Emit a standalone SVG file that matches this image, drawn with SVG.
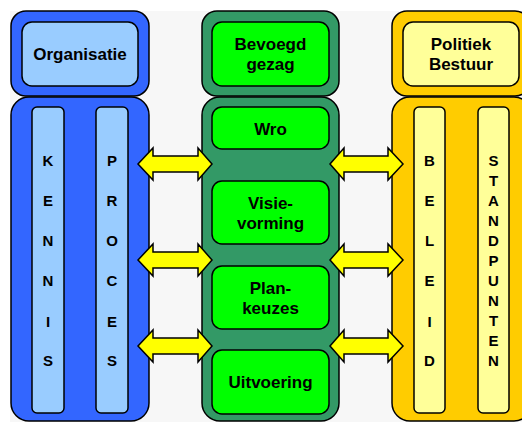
<svg xmlns="http://www.w3.org/2000/svg" width="522" height="422" viewBox="0 0 522 422">
<defs>
<style>
.t{font-family:"Liberation Sans",Arial,sans-serif;font-weight:bold;font-size:17px;fill:#000;text-anchor:middle}
.s{font-family:"Liberation Sans",Arial,sans-serif;font-weight:bold;font-size:15px;fill:#000;text-anchor:middle}
.o{stroke:#000;stroke-width:1.5}
.b1{fill:#3366ff}.b2{fill:#99ccff}
.g1{fill:#339966}.g2{fill:#00ff00}
.y1{fill:#ffcc00}.y2{fill:#ffff99}
.arr{fill:#ffff00;stroke:#000;stroke-width:1.5;stroke-linejoin:miter}
</style>
</defs>
<rect x="0" y="0" width="522" height="422" fill="#ffffff"/>
<rect x="10" y="11" width="512" height="411" fill="#f7f7f7"/>

<g id="organisatie">
<rect class="o b1" x="11" y="11" width="138" height="85" rx="15"/>
<rect class="o b2" x="22" y="22" width="116" height="64" rx="10"/>
<text class="t" x="80" y="60">Organisatie</text>
</g>
<g id="kennis-proces">
<rect class="o b1" x="11" y="97" width="138" height="324" rx="18"/>
<rect class="o b2" x="32" y="107" width="32" height="306" rx="5"/>
<rect class="o b2" x="96" y="107" width="32" height="306" rx="5"/>
<g class="s">
<text x="48" y="166">K</text><text x="48" y="206">E</text><text x="48" y="246">N</text><text x="48" y="286">N</text><text x="48" y="327">I</text><text x="48" y="366">S</text>
<text x="112" y="166">P</text><text x="112" y="206">R</text><text x="112" y="246">O</text><text x="112" y="286">C</text><text x="112" y="327">E</text><text x="112" y="366">S</text>
</g>
</g>

<g id="bevoegd-gezag">
<rect class="o g1" x="202" y="11" width="137" height="85" rx="15"/>
<rect class="o g2" x="212" y="22" width="117" height="64" rx="10"/>
<text class="t" x="270.5" y="50">Bevoegd</text>
<text class="t" x="270.5" y="70">gezag</text>
</g>
<g id="proces-stappen">
<rect class="o g1" x="202" y="97" width="137" height="324" rx="18"/>
</g>
<g id="wro">
<rect class="o g2" x="212" y="107" width="117" height="42" rx="10"/>
<text class="t" x="270.5" y="135">Wro</text>
</g>
<g id="visievorming">
<rect class="o g2" x="212" y="181" width="117" height="63" rx="10"/>
<text class="t" x="270.5" y="209">Visie-</text>
<text class="t" x="270.5" y="229">vorming</text>
</g>
<g id="plankeuzes">
<rect class="o g2" x="212" y="266" width="117" height="63" rx="10"/>
<text class="t" x="270.5" y="294">Plan-</text>
<text class="t" x="270.5" y="314">keuzes</text>
</g>
<g id="uitvoering">
<rect class="o g2" x="212" y="350" width="117" height="64" rx="10"/>
<text class="t" x="270.5" y="388">Uitvoering</text>
</g>

<g id="politiek-bestuur">
<rect class="o y1" x="392" y="11" width="138" height="85" rx="15"/>
<rect class="o y2" x="403" y="22" width="116" height="64" rx="10"/>
<text class="t" x="461" y="50">Politiek</text>
<text class="t" x="461" y="70">Bestuur</text>
</g>
<g id="beleid-standpunten">
<rect class="o y1" x="392" y="97" width="140" height="324" rx="18"/>
<rect class="o y2" x="414" y="107" width="31" height="306" rx="5"/>
<rect class="o y2" x="478" y="107" width="31" height="306" rx="5"/>
<g class="s">
<text x="429.5" y="166">B</text><text x="429.5" y="206">E</text><text x="429.5" y="246">L</text><text x="429.5" y="286">E</text><text x="429.5" y="327">I</text><text x="429.5" y="366">D</text>
<text x="493.5" y="166">S</text><text x="493.5" y="186">T</text><text x="493.5" y="206">A</text><text x="493.5" y="226">N</text><text x="493.5" y="246">D</text><text x="493.5" y="266">P</text><text x="493.5" y="286">U</text><text x="493.5" y="306">N</text><text x="493.5" y="326">T</text><text x="493.5" y="346">E</text><text x="493.5" y="366">N</text>
</g>
</g>

<g id="connectors">
<defs>
<path id="al" d="M0,0 L15,-16 L15,-8 L60,-8 L60,-16 L74,0 L60,16 L60,8 L15,8 L15,16 Z"/>
<path id="ar" d="M0,0 L14,-16 L14,-8 L58,-8 L58,-16 L73,0 L58,16 L58,8 L14,8 L14,16 Z"/>
</defs>
<use href="#al" class="arr" x="138" y="164"/>
<use href="#al" class="arr" x="138" y="260"/>
<use href="#al" class="arr" x="138" y="346"/>
<use href="#ar" class="arr" x="330" y="164"/>
<use href="#ar" class="arr" x="330" y="260"/>
<use href="#ar" class="arr" x="330" y="346"/>
</g>
</svg>
